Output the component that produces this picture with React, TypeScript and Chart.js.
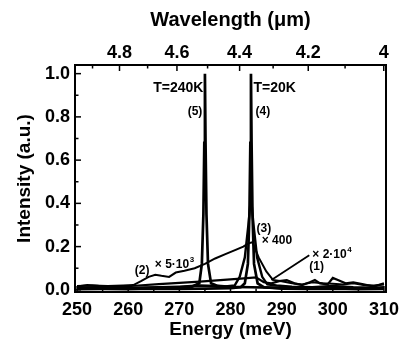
import React, { useEffect, useRef } from "react";
import { Chart, registerables } from "chart.js";

Chart.register(...registerables);

// ---- axes ----
const energyTicks = [250, 260, 270, 280, 290, 300, 310];
const energyMinorTicks = [255, 265, 275, 285, 295, 305];
const intensityTicks = [0, 0.2, 0.4, 0.6, 0.8, 1.0];
const intensityMinorTicks = [0.1, 0.3, 0.5, 0.7, 0.9];
const wavelengthTicks = [4.8, 4.6, 4.4, 4.2, 4.0];
const wavelengthTickLabels = ["4.8", "4.6", "4.4", "4.2", "4"];
const wavelengthMinorTicks = [4.9, 4.7, 4.5, 4.3, 4.1];
const HC = 1239.84; // meV * um

// ---- series (1) x2e4 ----
const s1Energy = [250, 252, 254, 256, 258, 262, 266, 270, 274, 278, 282, 285, 286.5, 288, 289.5, 291, 292.5, 294, 295.5, 296.5, 297.5, 299, 300, 301, 302.5, 304, 306, 308, 310];
const s1Intensity = [0.015, 0.022, 0.018, 0.012, 0.014, 0.02, 0.026, 0.032, 0.038, 0.045, 0.052, 0.058, 0.035, 0.03, 0.04, 0.045, 0.03, 0.022, 0.035, 0.045, 0.03, 0.025, 0.055, 0.045, 0.03, 0.035, 0.025, 0.015, 0.03];
// leader line for label (1)
const leaderEnergy = [288.0, 295.4];
const leaderIntensity = [0.046, 0.16];

// ---- series (2) x5e3 ----
const s2Energy = [250, 253, 256, 259, 261, 262.5, 264, 265.3, 266.5, 268, 269.3, 271, 273, 275, 277, 279, 281, 282.5, 283.5, 284.3, 285.5, 287, 288.3, 290, 292, 294, 296, 298, 300, 302, 304, 306, 308, 310];
const s2Intensity = [0.018, 0.02, 0.018, 0.02, 0.022, 0.04, 0.06, 0.07, 0.065, 0.06, 0.08, 0.088, 0.1, 0.12, 0.145, 0.165, 0.185, 0.2, 0.215, 0.22, 0.15, 0.085, 0.046, 0.04, 0.03, 0.025, 0.035, 0.03, 0.028, 0.025, 0.03, 0.022, 0.02, 0.025];

// ---- series (3) x400 ----
const s3Energy = [250, 254, 258, 262, 266, 270, 274, 277, 279, 280.8, 281.8, 282.8, 283.5, 284, 284.5, 285.2, 286.2, 287.2, 289, 292, 296, 300, 304, 308, 310];
const s3Intensity = [0.01, 0.012, 0.008, 0.01, 0.012, 0.015, 0.02, 0.018, 0.016, 0.02, 0.06, 0.15, 0.3, 0.43, 0.3, 0.15, 0.06, 0.025, 0.02, 0.015, 0.012, 0.018, 0.012, 0.01, 0.012];

// ---- series (4) T=20K ----
const s4Energy = [250, 255, 260, 265, 270, 275, 280, 282, 282.8, 283.4, 283.7, 283.88, 284, 284.12, 284.3, 284.6, 285.3, 286.5, 290, 295, 300, 305, 310];
const s4Intensity = [0.003, 0.004, 0.003, 0.005, 0.004, 0.006, 0.008, 0.012, 0.03, 0.12, 0.35, 0.68, 1.0, 0.68, 0.35, 0.12, 0.03, 0.012, 0.006, 0.004, 0.005, 0.003, 0.004];

// ---- series (5) T=240K ----
const s5Energy = [250, 254, 258, 262, 266, 270, 272.5, 273.9, 274.4, 274.7, 274.88, 275, 275.12, 275.3, 275.6, 276.2, 277.5, 280, 284, 288, 292, 296, 300, 304, 308, 310];
const s5Intensity = [0.005, 0.008, 0.006, 0.008, 0.01, 0.012, 0.015, 0.03, 0.12, 0.35, 0.68, 1.0, 0.68, 0.35, 0.12, 0.03, 0.018, 0.014, 0.012, 0.01, 0.008, 0.01, 0.008, 0.006, 0.008, 0.006];

const FONT = "'Liberation Sans', Arial, Helvetica, sans-serif";

const toPoints = (xs: number[], ys: number[]) => xs.map((x, i) => ({ x, y: ys[i] }));

const framePlugin = {
  id: "frameAndLabels",
  afterDatasetsDraw(chart: any) {
    const { ctx, chartArea: a, scales } = chart;
    const sx = scales.x;
    const sy = scales.y;
    ctx.save();
    ctx.strokeStyle = "#000";
    ctx.lineWidth = 2;
    ctx.strokeRect(a.left, a.top, a.right - a.left, a.bottom - a.top);
    const line = (x1: number, y1: number, x2: number, y2: number) => {
      ctx.beginPath();
      ctx.moveTo(x1, y1);
      ctx.lineTo(x2, y2);
      ctx.stroke();
    };
    ctx.lineWidth = 1.5;
    energyTicks.forEach((e) => { const x = sx.getPixelForValue(e); line(x, a.bottom, x, a.bottom - 6); });
    energyMinorTicks.forEach((e) => { const x = sx.getPixelForValue(e); line(x, a.bottom, x, a.bottom - 3.5); });
    wavelengthTicks.forEach((l) => { const x = sx.getPixelForValue(HC / l); line(x, a.top, x, a.top + 6); });
    wavelengthMinorTicks.forEach((l) => { const x = sx.getPixelForValue(HC / l); line(x, a.top, x, a.top + 3.5); });
    intensityTicks.forEach((v) => { const y = sy.getPixelForValue(v); line(a.left, y, a.left + 6, y); });
    intensityMinorTicks.forEach((v) => { const y = sy.getPixelForValue(v); line(a.left, y, a.left + 3.5, y); });

    // annotations
    ctx.fillStyle = "#000";
    ctx.textBaseline = "middle";
    const txt = (s: string, e: number, v: number, align: "left" | "right", size = 13, sup?: string) => {
      ctx.font = `bold ${size}px ${FONT}`;
      let x = sx.getPixelForValue(e);
      const y = sy.getPixelForValue(v);
      const w = ctx.measureText(s).width;
      let supW = 0;
      if (sup) {
        ctx.font = `bold ${Math.round(size * 0.65)}px ${FONT}`;
        supW = ctx.measureText(sup).width;
      }
      if (align === "right") x -= w + supW;
      ctx.font = `bold ${size}px ${FONT}`;
      ctx.textAlign = "left";
      ctx.fillText(s, x, y);
      if (sup) {
        ctx.font = `bold ${Math.round(size * 0.65)}px ${FONT}`;
        ctx.fillText(sup, x + w + 0.5, y - size * 0.38);
      }
    };
    txt("T=240K", 274.7, 0.935, "right", 14);
    txt("(5)", 274.5, 0.824, "right", 12);
    txt("T=20K", 284.5, 0.935, "left", 14);
    txt("(4)", 284.9, 0.824, "left", 12);
    txt("(3)", 285.1, 0.282, "left", 12);
    txt("\u00d7 400", 286.1, 0.227, "left", 12);
    txt("(2)", 261.3, 0.088, "left", 12);
    txt("\u00d7 5\u00b710", 265.2, 0.116, "left", 12, "3");
    txt("\u00d7 2\u00b710", 296.0, 0.162, "left", 12, "4");
    txt("(1)", 295.4, 0.106, "left", 12);
    ctx.restore();
  },
};

const fixSize = (w: number | null, h: number | null) => (s: any) => {
  if (w !== null) s.width = w;
  if (h !== null) s.height = h;
  s.paddingLeft = 0;
  s.paddingRight = 0;
  s.paddingTop = 0;
  s.paddingBottom = 0;
};

export default function App() {
  const canvasRef = useRef<HTMLCanvasElement | null>(null);

  useEffect(() => {
    if (!canvasRef.current) return;
    const ds = (xs: number[], ys: number[], w = 2) => ({
      data: toPoints(xs, ys),
      borderColor: "#000",
      backgroundColor: "#000",
      borderWidth: w,
      pointRadius: 0,
      tension: 0,
      fill: false,
    });
    const noGrid = { display: false, drawTicks: false };
    const chart = new Chart(canvasRef.current, {
      type: "line",
      data: {
        datasets: [
          ds(s1Energy, s1Intensity, 2.2),
          ds(leaderEnergy, leaderIntensity, 1.8),
          ds(s2Energy, s2Intensity, 2),
          ds(s3Energy, s3Intensity, 2.4),
          ds(s4Energy, s4Intensity, 2.7),
          ds(s5Energy, s5Intensity, 2.7),
        ],
      },
      options: {
        animation: false,
        responsive: false,
        devicePixelRatio: 1,
        layout: { padding: { left: 0, right: 16, top: 0, bottom: 0 } },
        plugins: { legend: { display: false }, tooltip: { enabled: false } },
        scales: {
          x: {
            type: "linear",
            position: "bottom",
            min: 249.6,
            max: 310.4,
            afterBuildTicks: (s: any) => { s.ticks = energyTicks.map((v) => ({ value: v })); },
            afterFit: fixSize(null, 49),
            grid: noGrid,
            border: { display: false },
            ticks: {
              color: "#000",
              font: { family: FONT, size: 18, weight: "bold" },
              padding: 7,
              maxRotation: 0,
              autoSkip: false,
              callback: (v: any) => String(v),
            },
            title: {
              display: true,
              text: "Energy (meV)",
              color: "#000",
              font: { family: FONT, size: 19, weight: "bold" },
              padding: { top: 0, bottom: 0 },
            },
          },
          xTop: {
            type: "linear",
            position: "top",
            min: 249.6,
            max: 310.4,
            afterBuildTicks: (s: any) => { s.ticks = wavelengthTicks.map((l) => ({ value: HC / l })); },
            afterFit: fixSize(null, 65),
            grid: noGrid,
            border: { display: false },
            ticks: {
              color: "#000",
              font: { family: FONT, size: 18, weight: "bold" },
              padding: 1,
              maxRotation: 0,
              autoSkip: false,
              callback: (_v: any, i: number) => wavelengthTickLabels[i],
            },
            title: {
              display: true,
              text: "Wavelength (\u03bcm)",
              color: "#000",
              font: { family: FONT, size: 20, weight: "bold" },
              padding: { top: 8, bottom: 0 },
            },
          },
          y: {
            type: "linear",
            position: "left",
            min: -0.01,
            max: 1.04,
            afterBuildTicks: (s: any) => { s.ticks = intensityTicks.map((v) => ({ value: v })); },
            afterFit: fixSize(75, null),
            grid: noGrid,
            border: { display: false },
            ticks: {
              color: "#000",
              font: { family: FONT, size: 18, weight: "bold" },
              padding: 5,
              autoSkip: false,
              callback: (v: any) => Number(v).toFixed(1),
            },
            title: {
              display: true,
              text: "Intensity (a.u.)",
              color: "#000",
              font: { family: FONT, size: 19, weight: "bold" },
              padding: { top: 13, bottom: 0 },
            },
          },
        },
      },
      plugins: [framePlugin],
    } as any);
    return () => chart.destroy();
  }, []);

  return (
    <div style={{ position: "absolute", left: 0, top: 0, width: 402, height: 341, background: "#fff" }}>
      <canvas ref={canvasRef} width={402} height={341} style={{ display: "block" }} />
    </div>
  );
}
